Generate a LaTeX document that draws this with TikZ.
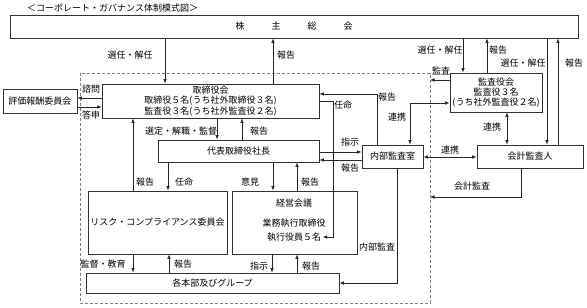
\documentclass[tikz,border=0pt]{standalone}
\usepackage{fontspec}
\setmainfont{Noto Sans CJK JP}
\usetikzlibrary{arrows.meta}

\begin{document}
\begin{tikzpicture}[x=1pt,y=-1pt,
    >={Latex[length=4.5pt,width=3.6pt]},
    every node/.style={font=\fontsize{9}{10.5}\selectfont, inner sep=0pt},
    box/.style={draw=black!80, line width=0.7pt, fill=white, align=center},
    conn/.style={->, draw=black!85, line width=0.7pt},
    frame/.style={draw=black!50, line width=0.7pt, dash pattern=on 3pt off 2pt}]
    \useasboundingbox (0,0) rectangle (587,308);

    \node[anchor=west] (title) at (27,8) {＜コーポレート・ガバナンス体制模式図＞};

    % dashed frame
    \draw[frame] (80,73) rectangle (430,303);
    \coordinate (frKansa) at (430,80);
    \coordinate (frKaikei) at (430,197);

    % boxes
    \node[box, minimum width=568, minimum height=23] (sh) at (294,26.5) {株　　　主　　　総　　　会};
    \node[box, minimum width=217, minimum height=34] (bod) at (210.5,101) {取締役会\\取締役５名(うち社外取締役３名)\\監査役３名(うち社外監査役２名)};
    \node[box, minimum width=74, minimum height=24] (eval) at (40,101) {評価報酬委員会};
    \node[box, minimum width=92, minimum height=39, font=\fontsize{9}{10}\selectfont] (kansa) at (496,92.5) {監査役会\\監査役３名\\(うち社外監査役２名)};
    \node[box, minimum width=161, minimum height=22] (pres) at (238.5,151) {代表取締役社長};
    \node[box, minimum width=61, minimum height=23] (naibu) at (392.5,156.5) {内部監査室};
    \node[box, minimum width=106, minimum height=23] (kaikei) at (530,156.5) {会計監査人};
    \node[box, minimum width=139, minimum height=63] (risk) at (157.5,222.5) {リスク・コンプライアンス委員会};
    \node[box, minimum width=125, minimum height=63] (keiei) at (294.5,222.5) {};
    \node (kname) at (294,203) {経営会議};
    \node (kdir) at (294,223) {業務執行取締役};
    \node (kexec) at (294,237) {執行役員５名};
    \node[box, minimum width=253, minimum height=20] (kakubu) at (212.5,283) {各本部及びグループ};

    % shareholders
    \draw[conn] (sh.south -| 165,0) -- (bod.north -| 165,0);
    \node (lSen1) at (130,55) {選任・解任};
    \draw[conn] (bod.north -| 273,0) -- (sh.south -| 273,0);
    \node (lHou1) at (286,55) {報告};
    \draw[conn] (sh.south -| 463,0) -- (kansa.north -| 463,0);
    \node (lSen2) at (440,50) {選任・解任};
    \draw[conn] (kansa.north -| 487,0) -- (sh.south -| 487,0);
    \node (lHou2) at (498,50) {報告};
    \draw[conn] (sh.south -| 547,0) -- (kaikei.north -| 547,0);
    \node (lSen3) at (523,63) {選任・解任};
    \draw[conn] (kaikei.north -| 558,0) -- (sh.south -| 558,0);
    \node (lHou3) at (574,63) {報告};

    % auditors
    \draw[conn] (kansa.west |- 0,80) -- (frKansa);
    \node (lKansa) at (441,71) {監査};
    \draw[conn,<->] (kansa.west |- 0,103) -| (naibu.north -| 410,0);
    \node (lRen1) at (397,117) {連携};
    \draw[conn,<->] (kansa.south -| 507,0) -- (kaikei.north -| 507,0);
    \node (lRen2) at (492,127) {連携};
    \draw[conn,<->] (naibu.east |- 0,157) -- (kaikei.west |- 0,157);
    \node (lRen3) at (450,150) {連携};
    \draw[conn] (kaikei.south -| 521,0) |- (frKaikei);
    \node (lKaikei) at (472,186) {会計監査};

    % board
    \draw[conn] (bod.west |- 0,98) -- (eval.east |- 0,98);
    \node (lShimon) at (91,89) {諮問};
    \draw[conn] (eval.east |- 0,107) -- (bod.west |- 0,107);
    \node (lToushin) at (91,115) {答申};
    \draw[conn] (bod.south -| 217,0) -- (pres.north -| 217,0);
    \node (lSentei) at (181,131) {選定・解職・監督};
    \draw[conn] (pres.north -| 242,0) -- (bod.south -| 242,0);
    \node (lHou4) at (259,131) {報告};
    \draw[conn, shorten >=1.5pt] (bod.east |- 0,101) -| (kexec.east -| 333,0) -- (kexec.east);
    \node (lNin1) at (343,105) {任命};

    % internal audit
    \draw[conn] (naibu.north -| 377,0) |- (bod.east |- 0,94);
    \node (lHou5) at (387,97) {報告};
    \draw[conn] (pres.east |- 0,152) -- (naibu.west |- 0,152);
    \node (lShiji1) at (350,142) {指示};
    \draw[conn] (naibu.west |- 0,160) -- (pres.east |- 0,160);
    \node (lHou6) at (350,168) {報告};
    \draw[conn] (naibu.south -| 397,0) |- (kakubu.east);
    \node (lNaibu) at (377,247) {内部監査};

    % president and below
    \draw[conn] (risk.north -| 133,0) -- (bod.south -| 133,0);
    \node (lHou7) at (145,182) {報告};
    \draw[conn] (pres.south -| 168,0) -- (risk.north -| 168,0);
    \node (lNin2) at (184,182) {任命};
    \draw[conn] (pres.south -| 273,0) -- (keiei.north -| 273,0);
    \node (lIken) at (250,182) {意見};
    \draw[conn] (keiei.north -| 297,0) -- (pres.south -| 297,0);
    \node (lHou8) at (310,182) {報告};
    \draw[conn] (risk.south -| 133,0) -- (kakubu.north -| 133,0);
    \node (lKantoku) at (103,264) {監督・教育};
    \draw[conn] (kakubu.north -| 169,0) -- (risk.south -| 169,0);
    \node (lHou9) at (183,264) {報告};
    \draw[conn] (keiei.south -| 272,0) -- (kakubu.north -| 272,0);
    \node (lShiji2) at (259,266) {指示};
    \draw[conn] (kakubu.north -| 297,0) -- (keiei.south -| 297,0);
    \node (lHou10) at (311,266) {報告};
\end{tikzpicture}
\end{document}
